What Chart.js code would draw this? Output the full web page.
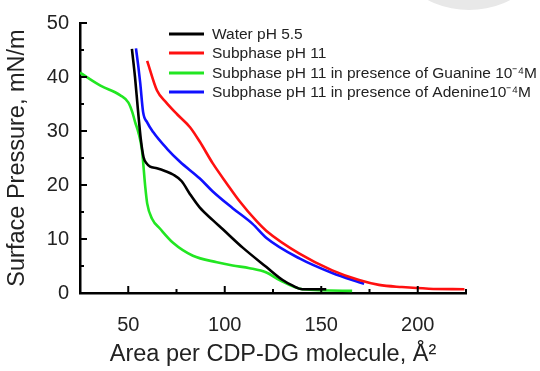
<!DOCTYPE html>
<html>
<head>
<meta charset="utf-8">
<script src="https://cdn.jsdelivr.net/npm/chart.js@4.4.0/dist/chart.umd.min.js"></script>
<style>
  html, body { margin: 0; padding: 0; background: #fff; }
  #wrap { width: 540px; height: 371px; position: relative; }
</style>
</head>
<body>
<div id="wrap"><canvas id="c" width="540" height="371"></canvas></div>
<script>
// ---- data ----
const seriesLabels = [
  'Water pH 5.5',
  'Subphase pH 11',
  'Subphase pH 11 in presence of Guanine 10\u207B\u2074M',
  'Subphase pH 11 in presence of Adenine10\u207B\u2074M'
];
const waterX = [51.9, 53.5, 55.0, 56.5, 57.9, 59.5, 61.3, 64.8, 69.0, 73.4, 77.7, 82.0, 87.1, 93.8, 99.0, 109.3, 121.6, 130.0, 135.0, 140.2, 152.6];
const waterY = [45.2, 40.0, 34.0, 28.5, 25.2, 24.0, 23.4, 23.1, 22.6, 21.9, 20.7, 18.3, 15.8, 13.5, 11.8, 8.4, 4.8, 2.4, 1.4, 0.7, 0.7];

const ph11X = [59.8, 64.9, 69.6, 75.3, 82.0, 87.1, 93.8, 101.0, 107.7, 116.5, 121.6, 138.7, 155.7, 169.6, 179.9, 191.8, 205.7, 224.2];
const ph11Y = [43.0, 37.5, 35.3, 33.1, 30.7, 28.0, 24.0, 20.3, 17.0, 13.3, 11.5, 7.3, 4.2, 2.4, 1.5, 1.1, 0.8, 0.7];

const guanX = [25.0, 35.6, 45.9, 50.0, 52.1, 53.6, 55.2, 57.1, 58.8, 59.8, 62.4, 66.5, 73.2, 83.5, 95.9, 104.1, 112.9, 121.6, 128.4, 140.2, 166.0];
const guanY = [40.8, 38.4, 36.6, 35.3, 33.5, 31.6, 29.8, 26.5, 19.7, 16.6, 13.7, 11.9, 9.3, 6.9, 5.7, 5.1, 4.6, 3.8, 2.4, 0.7, 0.4];

const adenX = [54.0, 55.2, 56.2, 57.7, 59.8, 62.9, 70.1, 76.8, 87.1, 93.8, 104.1, 114.4, 121.6, 138.7, 155.7, 169.6, 172.2];
const adenY = [45.3, 42.0, 38.9, 33.5, 31.6, 29.8, 26.7, 24.3, 21.2, 18.8, 15.7, 12.8, 10.2, 6.4, 3.7, 2.0, 1.7];

const xMajorTicks = [50, 100, 150, 200];
const xMinorTicks = [25, 75, 125, 175, 225];
const yMajorTicks = [0, 10, 20, 30, 40, 50];
const yMinorTicks = [5, 15, 25, 35, 45];

const xTitle = 'Area per CDP-DG molecule, \u00C5\u00B2';
const yTitle = 'Surface Pressure, mN/m';

// ---- build ----
const zip = (xs, ys) => xs.map((x, i) => ({ x: x, y: ys[i] }));
const colors = ['#000000', '#ff1010', '#22e622', '#1010ff'];
const sets = [zip(waterX, waterY), zip(ph11X, ph11Y), zip(guanX, guanY), zip(adenX, adenY)];

const FONT = "'Liberation Sans', Arial, sans-serif";

const watermark = {
  id: 'watermark',
  beforeDraw(chart) {
    const ctx = chart.ctx;
    ctx.save();
    ctx.fillStyle = '#e8e8e8';
    ctx.beginPath();
    ctx.arc(469, -80, 90, 0, Math.PI * 2);
    ctx.arc(469, -80, 79, 0, Math.PI * 2, true);
    ctx.fill();
    ctx.restore();
  }
};

const innerTicks = {
  id: 'innerTicks',
  afterDatasetsDraw(chart) {
    const ctx = chart.ctx;
    const xs = chart.scales.x, ys = chart.scales.y;
    const a = chart.chartArea;
    ctx.save();
    ctx.strokeStyle = '#000';
    ctx.lineWidth = 2;
    const tick = (x1, y1, x2, y2) => { ctx.beginPath(); ctx.moveTo(x1, y1); ctx.lineTo(x2, y2); ctx.stroke(); };
    xMajorTicks.forEach(v => { const p = xs.getPixelForValue(v); tick(p, a.bottom, p, a.bottom - 7); });
    xMinorTicks.forEach(v => { const p = xs.getPixelForValue(v); tick(p, a.bottom, p, a.bottom - 4); });
    yMajorTicks.forEach(v => { const p = ys.getPixelForValue(v); tick(a.left, p, a.left + 7, p); });
    yMinorTicks.forEach(v => { const p = ys.getPixelForValue(v); tick(a.left, p, a.left + 4, p); });
    ctx.restore();
  }
};

const customLegend = {
  id: 'customLegend',
  afterDraw(chart) {
    const ctx = chart.ctx;
    ctx.save();
    ctx.font = '15.5px ' + FONT;
    ctx.textBaseline = 'middle';
    const x0 = 169, x1 = 204, tx = 212;
    const rows = [34, 53, 73, 92];
    chart.data.datasets.forEach((ds, i) => {
      ctx.strokeStyle = ds.borderColor;
      ctx.lineWidth = 3;
      ctx.beginPath(); ctx.moveTo(x0, rows[i]); ctx.lineTo(x1, rows[i]); ctx.stroke();
      ctx.fillStyle = '#222';
      ctx.fillText(ds.label, tx, rows[i] + 1);
    });
    ctx.restore();
  }
};

new Chart(document.getElementById('c'), {
  type: 'scatter',
  data: {
    datasets: sets.map((d, i) => ({
      label: seriesLabels[i],
      data: d,
      showLine: true,
      borderColor: colors[i],
      backgroundColor: colors[i],
      borderWidth: 2.6,
      pointRadius: 0,
      cubicInterpolationMode: 'monotone',
      fill: false
    }))
  },
  options: {
    responsive: false,
    animation: false,
    layout: { padding: { top: 20, right: 74, left: 0, bottom: 0 } },
    plugins: { legend: { display: false }, tooltip: { enabled: false } },
    scales: {
      x: {
        type: 'linear', min: 25, max: 225,
        afterBuildTicks: s => { s.ticks = xMajorTicks.map(v => ({ value: v })); },
        afterFit: s => { s.height = 78; },
        grid: { display: false, drawTicks: false },
        border: { display: true, color: '#000', width: 2.5 },
        ticks: { color: '#222', font: { family: FONT, size: 20 }, padding: 20, maxRotation: 0 },
        title: { display: true, text: xTitle, color: '#222', font: { family: FONT, size: 23.5 }, padding: { top: 0, bottom: 2 } }
      },
      y: {
        type: 'linear', min: 0, max: 50,
        afterBuildTicks: s => { s.ticks = yMajorTicks.map(v => ({ value: v })); },
        afterFit: s => { s.width = 80; },
        grid: { display: false, drawTicks: false },
        border: { display: true, color: '#000', width: 2.5 },
        ticks: { color: '#222', font: { family: FONT, size: 20 }, padding: 11 },
        title: { display: true, text: yTitle, color: '#222', font: { family: FONT, size: 23.5 }, padding: { top: 3, bottom: 0 } }
      }
    }
  },
  plugins: [watermark, innerTicks, customLegend]
});
</script>
</body>
</html>
